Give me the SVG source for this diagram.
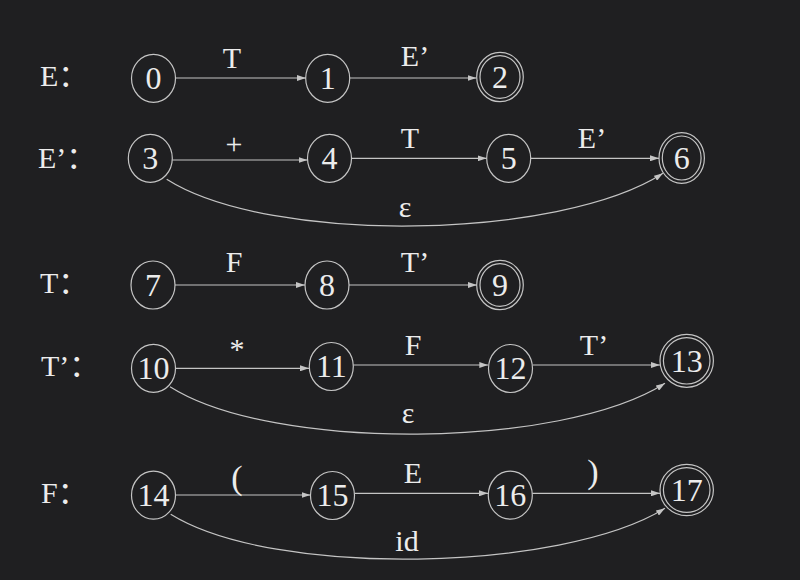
<svg xmlns="http://www.w3.org/2000/svg" width="800" height="580" viewBox="0 0 800 580">
<style>
.bg{fill:#1f1f21}
.n{fill:none;stroke:#c4c4c4;stroke-width:1.2}
.t{font-family:"Liberation Serif","Noto Sans CJK SC",serif;font-size:30px;fill:#ececec;text-anchor:middle}
.d{font-family:"Liberation Serif",serif;font-size:32px;fill:#ececec;text-anchor:middle}
.lbl{font-family:"Liberation Serif","Noto Sans CJK SC",serif;font-size:30px;fill:#ececec}
.e{fill:none;stroke:#c4c4c4;stroke-width:1.2;marker-end:url(#arr)}
</style>
<defs>
<marker id="arr" markerUnits="userSpaceOnUse" markerWidth="9" markerHeight="6" refX="9" refY="3" orient="auto">
<path d="M0,0 L9,3 L0,6 z" fill="#c4c4c4"/>
</marker>
</defs>
<rect class="bg" x="0" y="0" width="800" height="580"/>

<g id="labels">
<text class="lbl" x="40" y="86">E：</text>
<text class="lbl" x="38" y="168">E’：</text>
<text class="lbl" x="40" y="293">T：</text>
<text class="lbl" x="41" y="376">T’：</text>
<text class="lbl" x="41" y="503">F：</text>
</g>

<g id="connectors">
<path class="e" d="M175.5,78 L306,78"/>
<path class="e" d="M349.5,78 L476.5,78"/>
<path class="e" d="M172.3,160 L307.5,160"/>
<path class="e" d="M351.5,158.3 L486.7,158.3"/>
<path class="e" d="M530.7,158.3 L659,158.3"/>
<path class="e" d="M166.7,179.3 C270,245 560,240 663,173.3"/>
<path class="e" d="M175,285 L305,285"/>
<path class="e" d="M349,285 L477,285"/>
<path class="e" d="M175.3,368.3 L309,368.3"/>
<path class="e" d="M353.3,365 L488.3,365"/>
<path class="e" d="M532.7,365 L660,365"/>
<path class="e" d="M170,386.7 C273,452 562,449 665,383.3"/>
<path class="e" d="M175.5,495 L310.5,495"/>
<path class="e" d="M354.5,493.3 L488,493.3"/>
<path class="e" d="M532.3,493.3 L660,493.3"/>
<path class="e" d="M170.7,514.3 C273,578 562,572 665,508.3"/>
<text class="t" x="232" y="68">T</text>
<text class="t" x="415" y="66">E’</text>
<text class="t" x="234" y="154">+</text>
<text class="t" x="410" y="148">T</text>
<text class="t" x="592" y="148">E’</text>
<text class="t" x="405" y="217">ε</text>
<text class="t" x="234" y="272">F</text>
<text class="t" x="415" y="272">T’</text>
<text class="t" x="237" y="359">*</text>
<text class="t" x="413" y="355">F</text>
<text class="t" x="594" y="355">T’</text>
<text class="t" x="408" y="423">ε</text>
<text class="t" x="237" y="489" style="font-size:34px">(</text>
<text class="t" x="413" y="483">E</text>
<text class="t" x="593" y="483" style="font-size:34px">)</text>
<text class="t" x="407" y="551">id</text>
</g>

<g id="n0"><ellipse class="n" cx="153.5" cy="78.3" rx="22" ry="24"/><text class="d" x="153.5" y="89">0</text></g>
<g id="n1"><ellipse class="n" cx="327.7" cy="78.3" rx="22" ry="24"/><text class="d" x="327.7" y="89">1</text></g>
<g id="n2"><ellipse class="n" cx="500" cy="77" rx="23.3" ry="24.7"/><ellipse class="n" cx="500" cy="77" rx="20" ry="21.4"/><text class="d" x="500" y="88">2</text></g>

<g id="n3"><ellipse class="n" cx="150.3" cy="158.3" rx="22" ry="24"/><text class="d" x="150.3" y="169">3</text></g>
<g id="n4"><ellipse class="n" cx="329.5" cy="158.3" rx="22" ry="24"/><text class="d" x="329.5" y="169">4</text></g>
<g id="n5"><ellipse class="n" cx="508.7" cy="158.3" rx="22" ry="24"/><text class="d" x="508.7" y="169">5</text></g>
<g id="n6"><ellipse class="n" cx="681.7" cy="158" rx="22.7" ry="25.3"/><ellipse class="n" cx="681.7" cy="158" rx="19.4" ry="22"/><text class="d" x="681.7" y="169">6</text></g>

<g id="n7"><ellipse class="n" cx="153" cy="285" rx="22" ry="24"/><text class="d" x="153" y="296">7</text></g>
<g id="n8"><ellipse class="n" cx="327" cy="285" rx="22" ry="24"/><text class="d" x="327" y="296">8</text></g>
<g id="n9"><ellipse class="n" cx="500" cy="285" rx="23.3" ry="24.7"/><ellipse class="n" cx="500" cy="285" rx="20" ry="21.4"/><text class="d" x="500" y="296">9</text></g>

<g id="n10"><ellipse class="n" cx="153.5" cy="368.3" rx="22" ry="24"/><text class="d" x="153.5" y="379">10</text></g>
<g id="n11"><ellipse class="n" cx="331.3" cy="366.5" rx="22" ry="24"/><text class="d" x="331.3" y="377">11</text></g>
<g id="n12"><ellipse class="n" cx="510.5" cy="368.5" rx="22" ry="24"/><text class="d" x="510.5" y="379">12</text></g>
<g id="n13"><ellipse class="n" cx="686.7" cy="360.8" rx="26.7" ry="26.5"/><ellipse class="n" cx="686.7" cy="360.8" rx="23.3" ry="23.2"/><text class="d" x="686.7" y="372">13</text></g>

<g id="n14"><ellipse class="n" cx="153.5" cy="495.2" rx="22" ry="24"/><text class="d" x="153.5" y="506">14</text></g>
<g id="n15"><ellipse class="n" cx="332.5" cy="495.5" rx="22" ry="24"/><text class="d" x="332.5" y="506">15</text></g>
<g id="n16"><ellipse class="n" cx="510.3" cy="495.2" rx="22" ry="24"/><text class="d" x="510.3" y="506">16</text></g>
<g id="n17"><ellipse class="n" cx="686.7" cy="490" rx="26.7" ry="25.7"/><ellipse class="n" cx="686.7" cy="490" rx="23.3" ry="22.4"/><text class="d" x="686.7" y="501">17</text></g>
</svg>
